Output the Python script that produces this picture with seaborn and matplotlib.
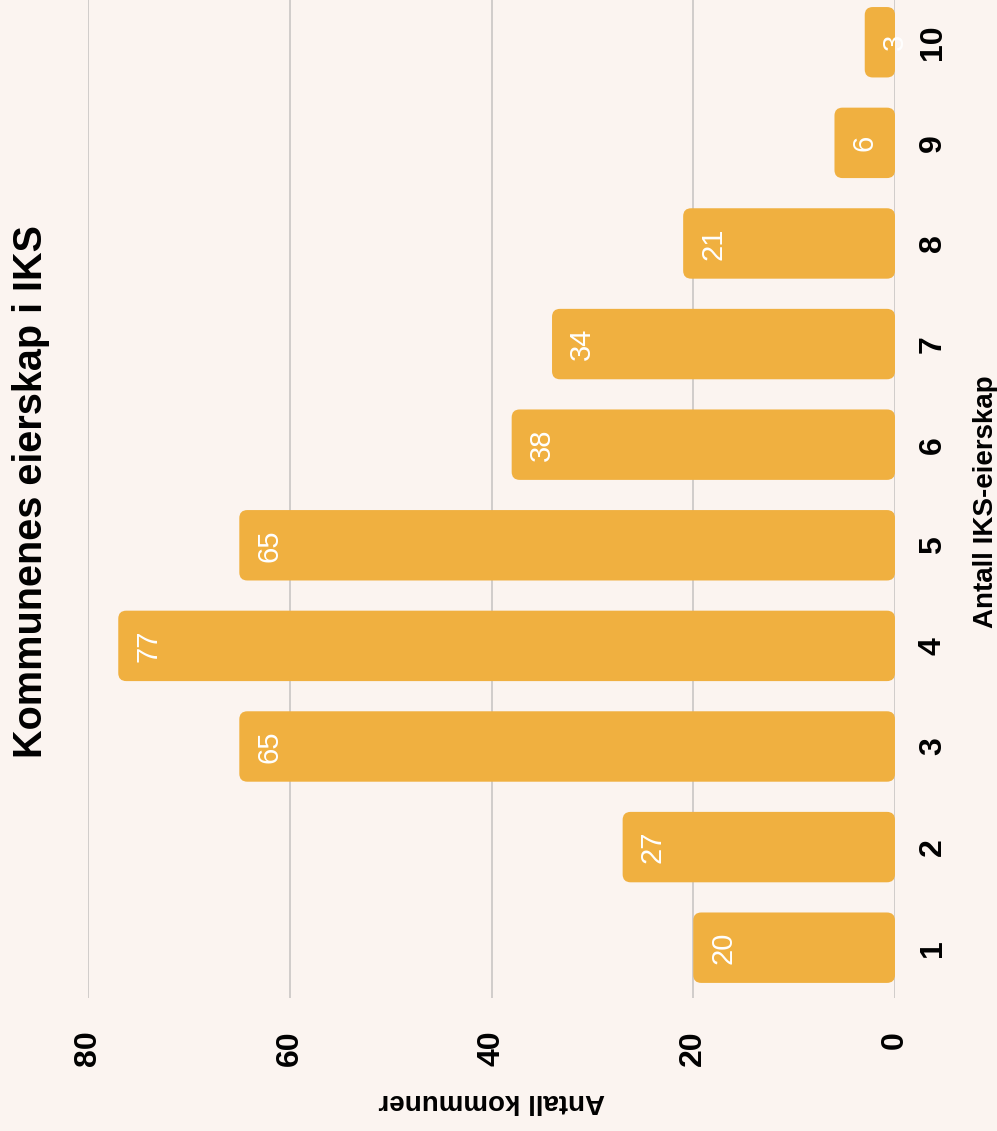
import numpy as np
import pandas as pd
import seaborn as sns
import matplotlib.pyplot as plt
from matplotlib.patches import FancyBboxPatch

# Data
eierskap = ['1', '2', '3', '4', '5', '6', '7', '8', '9', '10']
kommuner = [20, 27, 65, 77, 65, 38, 34, 21, 6, 3]
value_ticks = [0, 20, 40, 60, 80]

bg = '#FBF4F0'
bar_color = '#F0B040'
grid_color = '#C9C6C4'

sns.set_theme(style='white')
plt.rcParams['font.family'] = ['Liberation Sans', 'DejaVu Sans']
plt.rcParams['text.color'] = 'black'
plt.rcParams['axes.labelcolor'] = 'black'
plt.rcParams['xtick.color'] = 'black'
plt.rcParams['ytick.color'] = 'black'

df = pd.DataFrame({'eierskap': eierskap, 'kommuner': kommuner})

fig = plt.figure(figsize=(9.97, 11.31), dpi=100, facecolor=bg)
ax = fig.add_axes([88 / 997, 1 - 998 / 1131, 807 / 997, 998 / 1131])
ax.set_facecolor(bg)

sns.barplot(data=df, x='kommuner', y='eierskap', order=eierskap, orient='h',
            color=bar_color, width=0.7, saturation=1, ax=ax, zorder=3)

# swap plain bars for rounded ones
for p in list(ax.patches):
    x0, y0 = p.get_x(), p.get_y()
    w, h = p.get_width(), p.get_height()
    rb = FancyBboxPatch((x0, y0), w, h,
                        boxstyle='round,pad=0,rounding_size=0.8',
                        mutation_aspect=0.1, facecolor=bar_color,
                        edgecolor='none', zorder=3)
    p.remove()
    ax.add_patch(rb)

# value labels inside the bars
for i, v in enumerate(kommuner):
    ax.annotate(str(v), xy=(v, i), xytext=(11.5, 0), textcoords='offset points',
                rotation=90, rotation_mode='anchor', ha='center', va='top',
                color='white', fontsize=21, zorder=4)

ax.set_xlim(80, 0)
ax.set_ylim(-0.5, 9.42)
ax.set_xticks(value_ticks)
ax.set_xticklabels([str(t) for t in value_ticks])
for t in value_ticks:
    ax.axvline(t, color=grid_color, lw=1.2, zorder=1)

for s in ax.spines.values():
    s.set_visible(False)

ax.tick_params(axis='x', length=0, pad=23.5, labelsize=23, labelcolor='black')
ax.yaxis.tick_right()
ax.tick_params(axis='y', length=0, pad=16.5, labelsize=23, labelcolor='black')

for lab in ax.get_xticklabels():
    lab.set_rotation(90)
    lab.set_rotation_mode('anchor')
    lab.set_ha('right')
    lab.set_va('center')
    lab.set_fontweight('bold')
for lab in ax.get_yticklabels():
    lab.set_rotation(90)
    lab.set_rotation_mode('anchor')
    lab.set_ha('center')
    lab.set_va('top')
    lab.set_fontweight('bold')

ax.set_xlabel('Antall kommuner', rotation=180, fontsize=20, fontweight='bold',
              color='black')
ax.xaxis.set_label_coords(0.5, -0.0902)
ax.yaxis.set_label_position('right')
ax.set_ylabel('Antall IKS-eierskap', rotation=90, fontsize=20, fontweight='bold',
              color='black')
ax.yaxis.set_label_coords((973 - 88) / 807, 0.497)

fig.text(42 / 997, 1 - 492 / 1131, 'Kommunenes eierskap i IKS', rotation=90,
         rotation_mode='anchor', ha='center', va='baseline',
         fontsize=28.5, fontweight='bold', color='black')

fig.savefig('out.png', dpi=100, facecolor=bg)
